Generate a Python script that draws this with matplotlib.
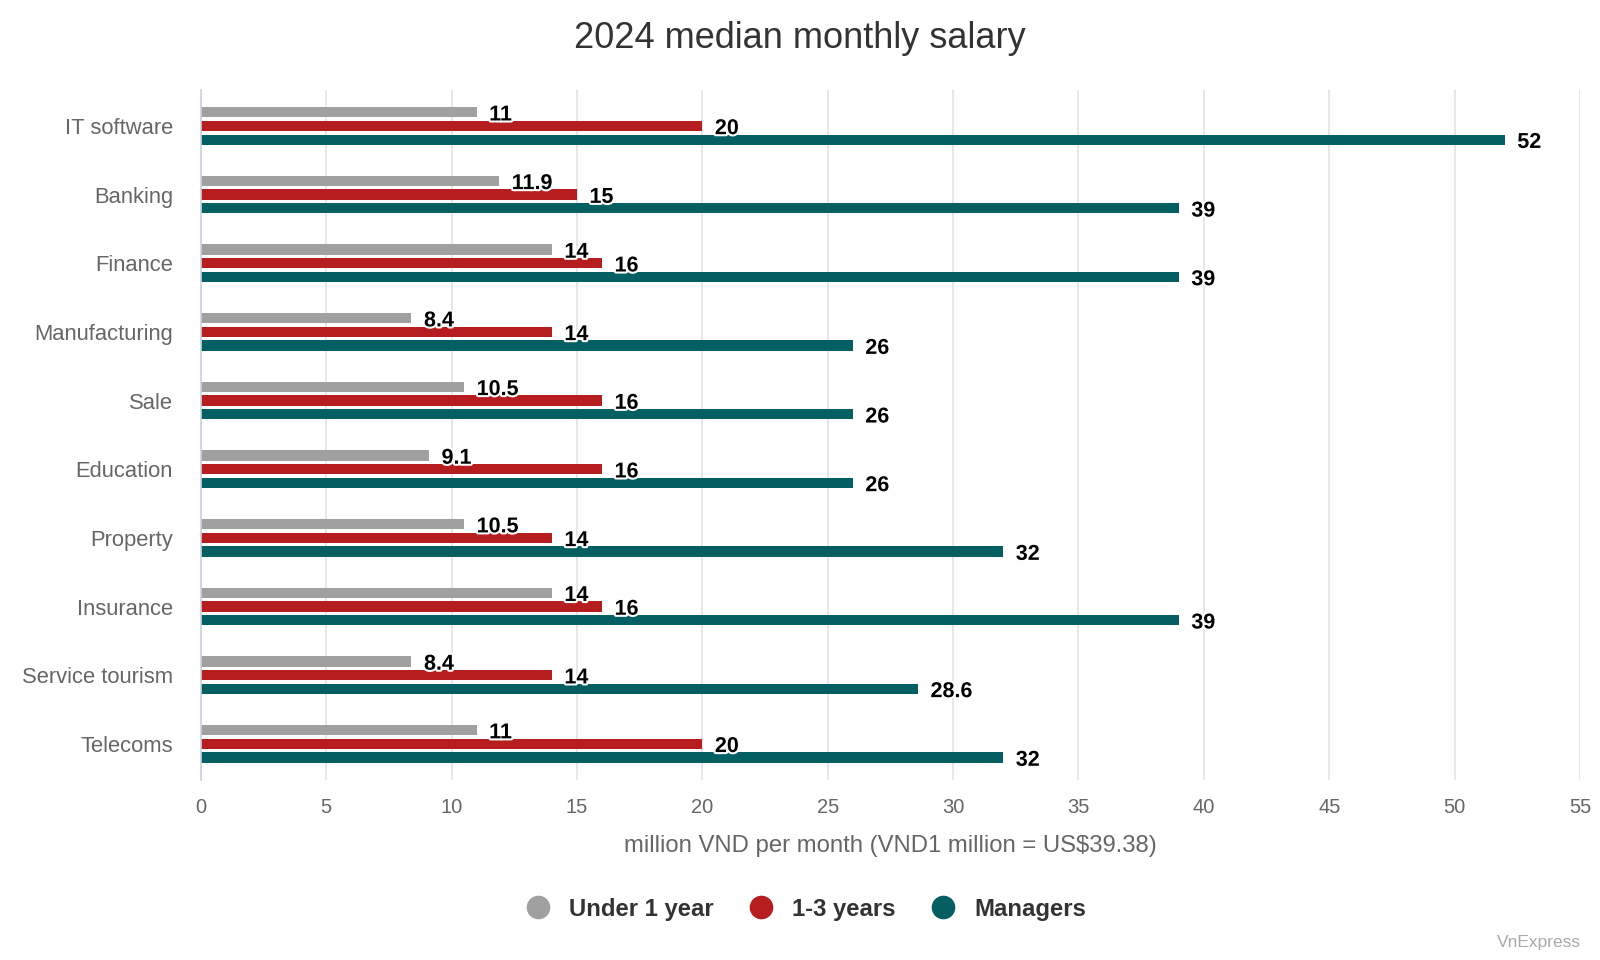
import numpy as np
import matplotlib
matplotlib.use("Agg")
import matplotlib.pyplot as plt
import matplotlib.patheffects as pe
from matplotlib.lines import Line2D

plt.rcParams['font.family'] = ['Liberation Sans', 'DejaVu Sans']

# Data
industries = ["IT software", "Banking", "Finance", "Manufacturing", "Sale",
              "Education", "Property", "Insurance", "Service tourism", "Telecoms"]
under_1_year = [11, 11.9, 14, 8.4, 10.5, 9.1, 10.5, 14, 8.4, 11]
one_to_three = [20, 15, 16, 14, 16, 16, 14, 16, 14, 20]
managers = [52, 39, 39, 26, 26, 26, 32, 39, 28.6, 32]
series_names = ["Under 1 year", "1-3 years", "Managers"]
colors = ["#a0a0a0", "#b51d1f", "#035f62"]

fig = plt.figure(figsize=(16, 9.6), dpi=100)
ax = fig.add_axes([0.1255, 0.188, 0.862, 0.718])

y = np.arange(len(industries))
offsets = [-0.2, 0.0, 0.2]
bar_h = 0.15

for vals, off, col in zip([under_1_year, one_to_three, managers], offsets, colors):
    ax.barh(y + off, vals, height=bar_h, color=col, zorder=3)
    for yi, v in zip(y, vals):
        lbl = f"{v:g}"
        ax.text(v + 0.5, yi + off + 0.04, lbl, va="center", ha="left",
                fontsize=15.5, fontweight="bold", color="black", zorder=5,
                path_effects=[pe.withStroke(linewidth=3, foreground="white")])

ax.set_ylim(len(industries) - 0.48, -0.52)
ax.set_xlim(0, 55)
ax.set_xticks(np.arange(0, 56, 5))
ax.set_yticks(y)
ax.set_yticklabels(industries, fontsize=15.8, color="#666666")
ax.tick_params(axis="x", labelsize=14.5, labelcolor="#666666", length=0, pad=13)
ax.tick_params(axis="y", length=0, pad=20)
ax.grid(axis="x", color="#e3e3e3", linewidth=1.2, zorder=0)
for s in ["top", "right", "bottom"]:
    ax.spines[s].set_visible(False)
ax.spines["left"].set_color("#c8d2e0")
ax.spines["left"].set_linewidth(1.2)
ax.spines["left"].set_zorder(4)

ax.set_xlabel("million VND per month (VND1 million = US$39.38)", fontsize=17.2,
              color="#666666", labelpad=13)

fig.text(0.5, 0.96, "2024 median monthly salary", ha="center", va="center",
         fontsize=26, color="#333333")

handles = [Line2D([0], [0], marker="o", linestyle="", markersize=16,
                  markerfacecolor=c, markeredgecolor=c) for c in colors]
leg = fig.legend(handles, series_names, loc="center", bbox_to_anchor=(0.5, 0.053),
                 ncol=3, frameon=False, fontsize=17.2, handletextpad=0.3,
                 columnspacing=1.0)
for t in leg.get_texts():
    t.set_fontweight("bold")
    t.set_color("#333333")

fig.text(0.988, 0.01, "VnExpress", ha="right", va="bottom", fontsize=12.5,
         color="#aaaaaa")

fig.savefig("out.png", dpi=100)
